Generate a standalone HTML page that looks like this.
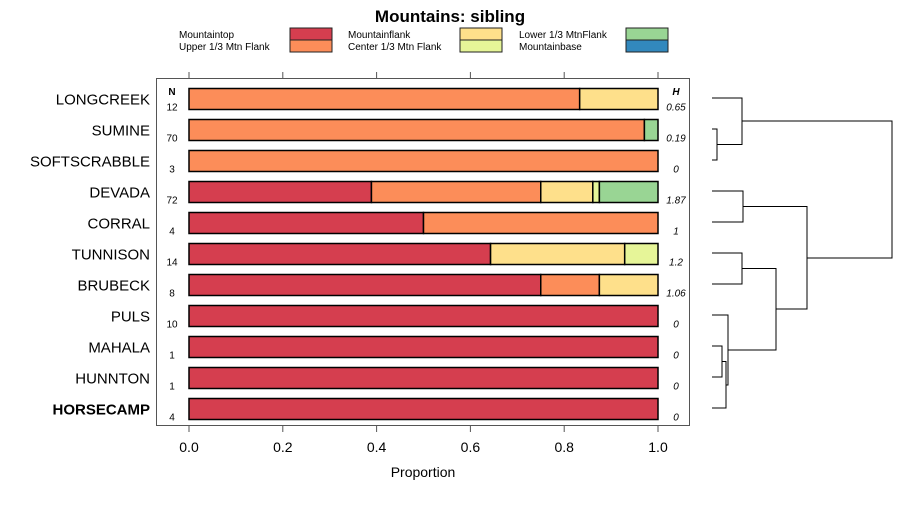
<!DOCTYPE html>
<html><head><meta charset="utf-8"><style>
body{margin:0;background:#fff}
svg{font-family:"Liberation Sans",sans-serif}
</style></head><body>
<svg id="c" width="900" height="500" xmlns="http://www.w3.org/2000/svg">
<rect width="900" height="500" fill="#fff"/>
<text x="450" y="22" text-anchor="middle" font-size="17" font-weight="bold">Mountains: sibling</text>
<g id="legend"></g>
<rect x="156.5" y="78.5" width="533" height="347" fill="none" stroke="#555"/>
<text x="172" y="95" text-anchor="middle" font-size="10" font-weight="bold">N</text>
<text x="676" y="95" text-anchor="middle" font-size="10" font-weight="bold" font-style="italic">H</text>
<g id="bars"></g><g id="axis"></g><g id="dendro"></g>
<text x="423" y="477" text-anchor="middle" font-size="14">Proportion</text>
</svg>
<script>
const categories=["LONGCREEK","SUMINE","SOFTSCRABBLE","DEVADA","CORRAL","TUNNISON","BRUBECK","PULS","MAHALA","HUNNTON","HORSECAMP"];
const seriesNames=["Mountaintop","Upper 1/3 Mtn Flank","Mountainflank","Center 1/3 Mtn Flank","Lower 1/3 MtnFlank","Mountainbase"];
const colors=["#D53E4F","#FC8D59","#FEE08B","#E6F598","#99D594","#3288BD"];
const mountaintop=[0,0,0,0.389,0.5,0.643,0.75,1,1,1,1];
const upperFlank=[0.833,0.971,1,0.361,0.5,0,0.125,0,0,0,0];
const mountainflank=[0.167,0,0,0.111,0,0.286,0.125,0,0,0,0];
const centerFlank=[0,0,0,0.014,0,0.071,0,0,0,0,0];
const lowerFlank=[0,0.029,0,0.125,0,0,0,0,0,0,0];
const mountainbase=[0,0,0,0,0,0,0,0,0,0,0];
const nValues=["12","70","3","72","4","14","8","10","1","1","4"];
const hValues=["0.65","0.19","0","1.87","1","1.2","1.06","0","0","0","0"];
const xTicks=[0,0.2,0.4,0.6,0.8,1.0];
const xTickLabels=["0.0","0.2","0.4","0.6","0.8","1.0"];
const NS="http://www.w3.org/2000/svg";
const X=v=>189+v*469;
const Y=i=>98.5+i*31;
function mk(t,a,p){const e=document.createElementNS(NS,t);for(const k in a)e.setAttribute(k,a[k]);p.appendChild(e);return e;}
const series=[mountaintop,upperFlank,mountainflank,centerFlank,lowerFlank,mountainbase];
const bars=document.getElementById('bars');
categories.forEach((c,i)=>{
  const t=mk('text',{x:150,y:Y(i)+6,'text-anchor':'end','font-size':15,'font-weight':c==="HORSECAMP"?'bold':'normal'},bars);t.textContent=c;
  
  
  const n=mk('text',{x:172,y:Y(i)+12,'text-anchor':'middle','font-size':10},bars);n.textContent=nValues[i];
  
  
  const h=mk('text',{x:676,y:Y(i)+12,'text-anchor':'middle','font-size':10,'font-style':'italic'},bars);h.textContent=hValues[i];
  
  
  let cum=0;
  series.forEach((s,k)=>{
    const v=s[i];if(v<=0)return;
    const r=mk('rect',{x:X(cum),y:Y(i)-10,width:X(cum+v)-X(cum),height:21,fill:colors[k],stroke:'#000','stroke-width':1.5},bars);
    
    
    cum+=v;
  });
});
const ax=document.getElementById('axis');
xTicks.forEach((v,i)=>{
  mk('line',{x1:X(v),x2:X(v),y1:426,y2:432,stroke:'#555'},ax);
  mk('line',{x1:X(v),x2:X(v),y1:72,y2:78,stroke:'#555'},ax);
  const t=mk('text',{x:X(v),y:452,'text-anchor':'middle','font-size':14},ax);t.textContent=xTickLabels[i];
  
  
});
const lg=document.getElementById('legend');
const lx=[179,348,519],sx=[290,460,626];
seriesNames.forEach((s,k)=>{
  const col=Math.floor(k/2),row=k%2;
  const t=mk('text',{x:lx[col],y:38+row*12,'font-size':10},lg);t.textContent=s;
  
  
  const r=mk('rect',{x:sx[col],y:28+row*12,width:42,height:12,fill:colors[k],stroke:'#222'},lg);
  
  
});
const dg=document.getElementById('dendro');
const L=712;
function U(xa,ya,xb,yb,xm){mk('path',{d:`M${xa},${ya}H${xm}V${yb}H${xb}`,fill:'none',stroke:'#000','stroke-width':1},dg);}
U(L,129,L,160,717);
U(L,98,717,144.5,742);
U(L,191,L,222,743);
U(L,253,L,284,742);
U(L,346,L,377,722);
U(722,361.5,L,408,726);
U(L,315,726,385,728);
U(742,268.5,728,350,776);
U(743,206.5,776,309,807);
U(742,121,807,258,892);
</script>
</body></html>
